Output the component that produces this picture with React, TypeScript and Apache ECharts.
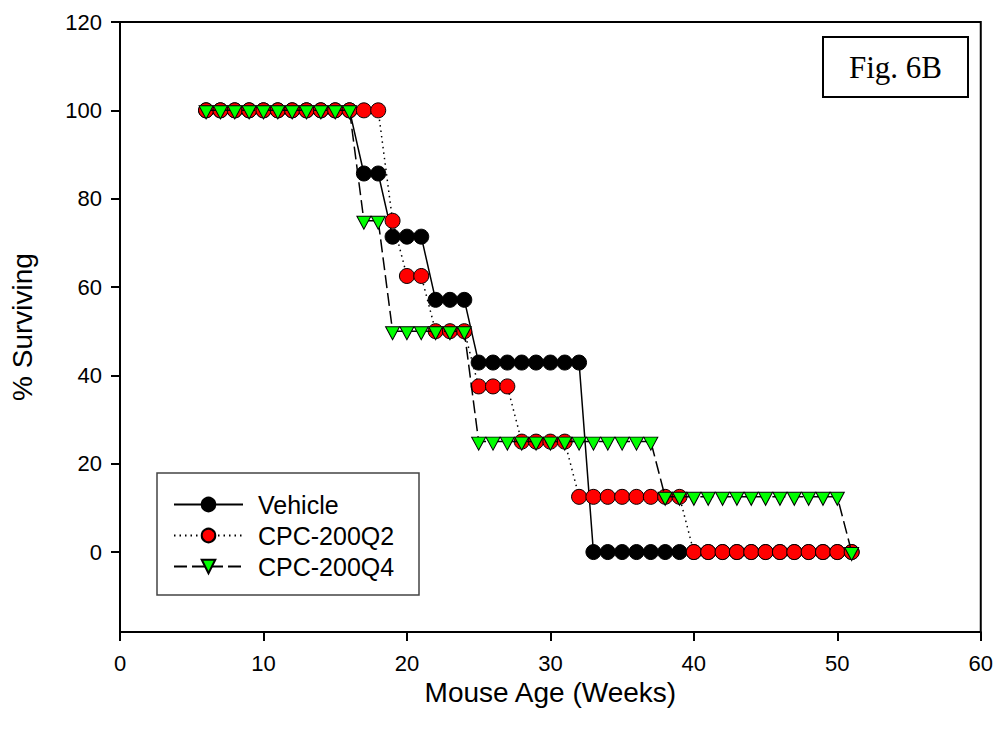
import React, { useEffect, useRef } from "react";
import * as echarts from "echarts";

const weeks = [6, 7, 8, 9, 10, 11, 12, 13, 14, 15, 16, 17, 18, 19, 20, 21, 22, 23, 24, 25, 26, 27, 28, 29, 30, 31, 32, 33, 34, 35, 36, 37, 38, 39, 40, 41, 42, 43, 44, 45, 46, 47, 48, 49, 50, 51];
const vehicle = [100, 100, 100, 100, 100, 100, 100, 100, 100, 100, 100, 85.7, 85.7, 71.4, 71.4, 71.4, 57.1, 57.1, 57.1, 42.9, 42.9, 42.9, 42.9, 42.9, 42.9, 42.9, 42.9, 0, 0, 0, 0, 0, 0, 0, 0, 0, 0, 0, 0, 0, 0, 0, 0, 0, 0, 0];
const cpcQ2 = [100, 100, 100, 100, 100, 100, 100, 100, 100, 100, 100, 100, 100, 75, 62.5, 62.5, 50, 50, 50, 37.5, 37.5, 37.5, 25, 25, 25, 25, 12.5, 12.5, 12.5, 12.5, 12.5, 12.5, 12.5, 12.5, 0, 0, 0, 0, 0, 0, 0, 0, 0, 0, 0, 0];
const cpcQ4 = [100, 100, 100, 100, 100, 100, 100, 100, 100, 100, 100, 75, 75, 50, 50, 50, 50, 50, 50, 25, 25, 25, 25, 25, 25, 25, 25, 25, 25, 25, 25, 25, 12.5, 12.5, 12.5, 12.5, 12.5, 12.5, 12.5, 12.5, 12.5, 12.5, 12.5, 12.5, 12.5, 0];
const seriesNames = ["Vehicle", "CPC-200Q2", "CPC-200Q4"];
const yTicks = [0, 20, 40, 60, 80, 100, 120];

const FONT = "Liberation Sans, Arial, sans-serif";

export default function App() {
  const ref = useRef<HTMLDivElement>(null);
  useEffect(() => {
    if (!ref.current) return;
    const chart = echarts.init(ref.current, null, { renderer: "svg" });
    const pairs = (vals: number[]) => weeks.map((w, i) => [w, vals[i]]);
    chart.setOption({
      animation: false,
      backgroundColor: "#ffffff",
      grid: {
        left: 119,
        right: 14,
        top: 22,
        bottom: 104,
        show: true,
        borderColor: "#000",
        borderWidth: 2,
        backgroundColor: "transparent",
      },
      xAxis: {
        type: "value",
        min: 0,
        max: 60,
        interval: 10,
        name: "Mouse Age (Weeks)",
        nameLocation: "middle",
        nameGap: 46,
        nameTextStyle: { fontFamily: FONT, fontSize: 28, color: "#000" },
        axisLine: { show: true, onZero: false, lineStyle: { color: "#000", width: 2 } },
        axisTick: { show: true, inside: false, length: 9, lineStyle: { color: "#000", width: 2 } },
        axisLabel: { margin: 20, fontFamily: FONT, fontSize: 22, color: "#000" },
        splitLine: { show: false },
      },
      yAxis: {
        type: "value",
        min: -18.1,
        max: 120,
        name: "% Surviving",
        nameLocation: "middle",
        nameGap: 84,
        nameRotate: 90,
        nameTextStyle: { fontFamily: FONT, fontSize: 28, color: "#000" },
        axisLine: { show: true, onZero: false, lineStyle: { color: "#000", width: 2 } },
        axisTick: { show: true, inside: false, length: 9, customValues: yTicks, lineStyle: { color: "#000", width: 2 } },
        axisLabel: { margin: 18, fontFamily: FONT, fontSize: 22, color: "#000", customValues: yTicks },
        splitLine: { show: false },
      },
      legend: {
        data: seriesNames,
        orient: "vertical",
        left: 168,
        top: 487,
        itemWidth: 69,
        itemHeight: 17,
        itemGap: 6,
        textStyle: { fontFamily: FONT, fontSize: 25, color: "#000", padding: [0, 0, 0, 10] },
      },
      graphic: [
        {
          type: "rect",
          shape: { x: 157, y: 473, width: 262, height: 122 },
          style: { fill: "none", stroke: "#444", lineWidth: 1.5 },
          z: 0,
        },
        {
          type: "rect",
          shape: { x: 823, y: 37, width: 145, height: 60 },
          style: { fill: "#fff", stroke: "#000", lineWidth: 2 },
          z: 10,
        },
        {
          type: "text",
          x: 895.5,
          y: 67,
          style: {
            text: "Fig. 6B",
            font: "31px 'Liberation Serif', 'Times New Roman', serif",
            fill: "#000",
            align: "center",
            verticalAlign: "middle",
          },
          z: 11,
        },
      ],
      series: [
        {
          name: seriesNames[0],
          type: "line",
          data: pairs(vehicle),
          symbol: "circle",
          symbolSize: 15,
          lineStyle: { color: "#000", width: 1.5, type: "solid" },
          itemStyle: { color: "#000", borderColor: "#000", borderWidth: 1 },
          z: 2,
        },
        {
          name: seriesNames[1],
          type: "line",
          data: pairs(cpcQ2),
          symbol: "circle",
          symbolSize: 15,
          lineStyle: { color: "#000", width: 1.5, type: [1.5, 4] },
          itemStyle: { color: "#ff0000", borderColor: "#000", borderWidth: 1 },
          z: 3,
        },
        {
          name: seriesNames[2],
          type: "line",
          data: pairs(cpcQ4),
          symbol: "triangle",
          symbolRotate: 180,
          symbolSize: [14, 13],
          symbolOffset: [0, 2],
          lineStyle: { color: "#000", width: 1.5, type: [13, 5] },
          itemStyle: { color: "#00ff00", borderColor: "#000", borderWidth: 1 },
          z: 4,
        },
      ],
    });
    return () => chart.dispose();
  }, []);
  return <div ref={ref} style={{ width: 996, height: 736, position: "absolute", left: 0, top: 0 }} />;
}
